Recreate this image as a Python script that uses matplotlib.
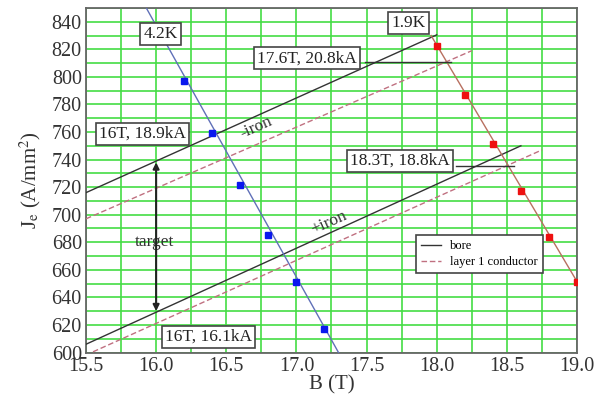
import numpy as np
import matplotlib
matplotlib.use("Agg")
from matplotlib import pyplot as plt

plt.rcParams['font.family'] = ['Liberation Serif', 'DejaVu Serif']
plt.rcParams['mathtext.fontset'] = 'stix'

# short-sample points
b_42k = [16.2, 16.4, 16.6, 16.8, 17.0, 17.2]
j_42k = [797, 759, 721.5, 685.5, 651, 617]
b_19k = [18.0, 18.2, 18.4, 18.6, 18.8, 19.0]
j_19k = [822.5, 786.5, 751.5, 717, 683.5, 651.5]
# drawn extent of the short-sample lines
b_42k_line = [15.93, 17.3]
j_42k_line = [850, 600]
b_19k_line = [17.96, 19.0]
j_19k_line = [830, 651.5]

# load lines (bore / layer 1 conductor), without and with iron
b_noiron_bore = [15.5, 18.0]
j_noiron_bore = [716, 830.5]
b_noiron_l1 = [15.5, 18.25]
j_noiron_l1 = [697, 819]
b_iron_bore = [15.5, 18.6]
j_iron_bore = [606, 750]
b_iron_l1 = [15.55, 18.75]
j_iron_l1 = [600.5, 747]

# leader lines of the working-point labels
b_lead_176 = [17.49, 18.1]
j_lead_176 = [811, 811]
b_lead_183 = [18.14, 18.55]
j_lead_183 = [735.5, 735.5]

# target arrow
b_target = 16.0
j_target = [740, 628]

xticks = np.arange(15.5, 19.01, 0.5)
yticks = np.arange(600, 841, 20)

fig = plt.figure(figsize=(6.15, 3.99), dpi=100)
ax = fig.add_axes([0.1398, 0.1165, 0.7984, 0.8635])

ax.set_xlim(15.5, 19.0)
ax.set_ylim(600, 850)
ax.set_xticks(xticks)
ax.set_xticks(np.arange(15.5, 19.01, 0.25), minor=True)
ax.set_yticks(yticks)
ax.set_yticks(np.arange(600, 851, 10), minor=True)
ax.set_xticklabels(['%.1f' % v for v in xticks])
ax.grid(True, which='both', color='#44dd44', lw=1.2, zorder=0)
ax.set_axisbelow(True)
ax.tick_params(which='both', direction='in', length=0, labelsize=14.5, colors='#333333', pad=3)
for s in ax.spines.values():
    s.set_color('#666666')
    s.set_linewidth(1.3)

ax.set_xlabel('B (T)', fontsize=15, color='#333333', labelpad=0)
ax.set_ylabel(r'J$_{\mathrm{e}}$ (A/mm$^{2}$)', fontsize=15, color='#333333', labelpad=6)

dark = '#333333'
pink = '#c07080'
ax.plot(b_noiron_bore, j_noiron_bore, color=dark, lw=1.0, label='bore', zorder=3)
ax.plot(b_noiron_l1, j_noiron_l1, color=pink, lw=1.0, ls=(0, (4, 2)), label='layer 1 conductor', zorder=3)
ax.plot(b_iron_bore, j_iron_bore, color=dark, lw=1.0, zorder=3)
ax.plot(b_iron_l1, j_iron_l1, color=pink, lw=1.0, ls=(0, (4, 2)), zorder=3)

ax.plot(b_42k_line, j_42k_line, color='#6070b8', lw=1.0, zorder=3)
ax.plot(b_42k, j_42k, 's', color='#0a18ee', ms=4, zorder=4)
ax.plot(b_19k_line, j_19k_line, color='#b87060', lw=1.0, zorder=3)
ax.plot(b_19k, j_19k, 's', color='#ee1010', ms=4, zorder=4)

ax.plot(b_lead_176, j_lead_176, color=dark, lw=1.0, zorder=3)
ax.plot(b_lead_183, j_lead_183, color=dark, lw=1.0, zorder=3)

box = dict(boxstyle='square,pad=0.18', fc='white', ec='#444444', lw=1.2)
labels = [
    ('4.2K', 16.03, 831),
    ('1.9K', 17.8, 839),
    ('17.6T, 20.8kA', 17.075, 813.5),
    ('16T, 18.9kA', 15.9, 758.5),
    ('18.3T, 18.8kA', 17.74, 739),
    ('16T, 16.1kA', 16.375, 611.5),
]
for txt, x, y in labels:
    ax.text(x, y, txt, fontsize=12.5, color='#222222', ha='center', va='center', bbox=box, zorder=6)

ax.text(16.71, 763, '-iron', fontsize=12.5, color='#333333', rotation=24,
        ha='center', va='center', zorder=5)
ax.text(17.23, 694, '+iron', fontsize=12.5, color='#333333', rotation=24,
        ha='center', va='center', zorder=5)
ax.text(15.99, 680, 'target', fontsize=12.5, color='#333333', ha='center', va='center', zorder=5)
ax.annotate('', xy=(b_target, j_target[1]), xytext=(b_target, j_target[0]),
            arrowprops=dict(arrowstyle='<|-|>', color='#222222', lw=1.5, mutation_scale=9),
            zorder=6)

leg = ax.legend(loc='upper left', bbox_to_anchor=(0.66, 0.358), fontsize=9,
                frameon=True, fancybox=False, edgecolor='#444444', framealpha=1,
                handlelength=1.6, handletextpad=0.7, borderpad=0.4, labelspacing=0.3)
leg.get_frame().set_linewidth(1.2)
leg.set_zorder(7)

plt.savefig('out.png', dpi=100)
